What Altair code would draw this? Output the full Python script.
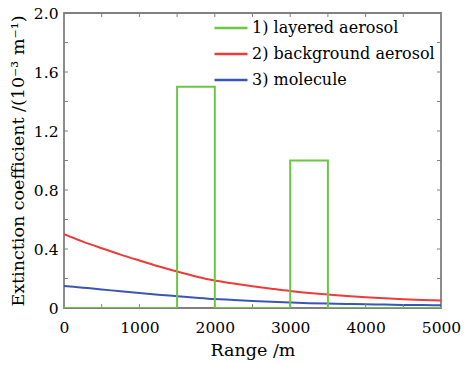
import altair as alt
import pandas as pd

# ---- data ----
range_m = [0, 250, 500, 750, 1000, 1250, 1500, 1750, 2000, 2250, 2500,
           2750, 3000, 3250, 3500, 3750, 4000, 4250, 4500, 4750, 5000]
background = [0.50, 0.45, 0.405, 0.362, 0.322, 0.283, 0.247, 0.214, 0.186, 0.166, 0.148,
              0.131, 0.115, 0.102, 0.091, 0.081, 0.073, 0.066, 0.06, 0.055, 0.05]
molecule = [0.15, 0.138, 0.126, 0.113, 0.101, 0.09, 0.08, 0.07, 0.061, 0.055, 0.048,
            0.042, 0.037, 0.033, 0.03, 0.027, 0.025, 0.023, 0.021, 0.02, 0.018]
layer_x = [0, 1500, 1500, 2000, 2000, 3000, 3000, 3500, 3500, 5000]
layer_y = [0, 0, 1.5, 1.5, 0, 0, 1.0, 1.0, 0, 0]

series_names = ["1) layered aerosol", "2) background aerosol", "3) molecule"]
series_colors = ["#6cc644", "#f03a3a", "#3a56b4"]

x_tick_values = [500, 1000, 1500, 2000, 2500, 3000, 3500, 4000, 4500]
y_tick_values = [0.2, 0.4, 0.6, 0.8, 1.0, 1.2, 1.4, 1.6, 1.8]
x_label_values = [0, 1000, 2000, 3000, 4000, 5000]
y_label_values = [0, 0.4, 0.8, 1.2, 1.6, 2.0]

layered_df = pd.DataFrame({"series": series_names[0], "x": layer_x, "y": layer_y,
                           "idx": list(range(len(layer_x)))})
curves_df = pd.concat([
    pd.DataFrame({"series": series_names[1], "x": range_m, "y": background}),
    pd.DataFrame({"series": series_names[2], "x": range_m, "y": molecule}),
])
xt_df = pd.DataFrame({"x": x_tick_values})
yt_df = pd.DataFrame({"y": y_tick_values})

FONT = "DejaVu Serif"
GRAY = "#808080"
W, H = 377, 295
TL = 4
xs = alt.Scale(domain=[0, 5000], nice=False)
ys = alt.Scale(domain=[0, 2], nice=False)

x_axis = alt.Axis(
    title="Range /m", values=x_label_values, format="d", labelFlush=False,
    ticks=False, domain=False, grid=False, labelPadding=12, titlePadding=6,
    labelFontSize=15.5, titleFontSize=17.5, labelFont=FONT, titleFont=FONT,
    labelColor="black", titleColor="black", titleFontWeight="normal")
y_axis = alt.Axis(
    title="Extinction coefficient /(10⁻³ m⁻¹)", values=y_label_values, labelFlush=False,
    labelExpr="datum.value == 0 ? '0' : format(datum.value, '.1f')",
    ticks=False, domain=False, grid=False, labelPadding=6, titlePadding=6,
    labelFontSize=15.5, titleFontSize=17.5, labelFont=FONT, titleFont=FONT,
    labelColor="black", titleColor="black", titleFontWeight="normal")

color_scale = alt.Scale(domain=series_names, range=series_colors)
legend = alt.Legend(
    title=None, orient="none", legendX=149, legendY=-3,
    symbolType="stroke", symbolSize=1089, symbolStrokeWidth=2.5,
    labelFont=FONT, labelFontSize=16, labelColor="black", labelLimit=0,
    labelOffset=3, rowPadding=-9.5, padding=0)

curves = alt.Chart(curves_df).mark_line(strokeWidth=2, clip=True, interpolate="monotone").encode(
    x=alt.X("x:Q", scale=xs, axis=x_axis),
    y=alt.Y("y:Q", scale=ys, axis=y_axis),
    color=alt.Color("series:N", scale=color_scale, legend=legend),
)
layered = alt.Chart(layered_df).mark_line(strokeWidth=2, clip=True).encode(
    x=alt.X("x:Q", scale=xs),
    y=alt.Y("y:Q", scale=ys),
    color=alt.Color("series:N", scale=color_scale),
    order=alt.Order("idx:Q"),
)

tick_style = dict(color=GRAY, strokeWidth=1)
bottom_ticks = alt.Chart(xt_df).mark_rule(**tick_style).encode(
    x=alt.X("x:Q", scale=xs), y=alt.value(H), y2=alt.value(H - TL))
top_ticks = alt.Chart(xt_df).mark_rule(**tick_style).encode(
    x=alt.X("x:Q", scale=xs), y=alt.value(0), y2=alt.value(TL))
left_ticks = alt.Chart(yt_df).mark_rule(**tick_style).encode(
    y=alt.Y("y:Q", scale=ys), x=alt.value(0), x2=alt.value(TL))
right_ticks = alt.Chart(yt_df).mark_rule(**tick_style).encode(
    y=alt.Y("y:Q", scale=ys), x=alt.value(W), x2=alt.value(W - TL))

chart = alt.layer(
    curves, bottom_ticks, top_ticks, left_ticks, right_ticks, layered
).properties(
    width=W, height=H,
    autosize=alt.AutoSizeParams(type="none"),
    padding={"left": 64, "top": 13, "right": 24, "bottom": 57},
    background="white",
).configure_view(
    stroke=GRAY, strokeWidth=1.8
)

chart.save("out.html", embed_options={"renderer": "svg", "actions": False})
